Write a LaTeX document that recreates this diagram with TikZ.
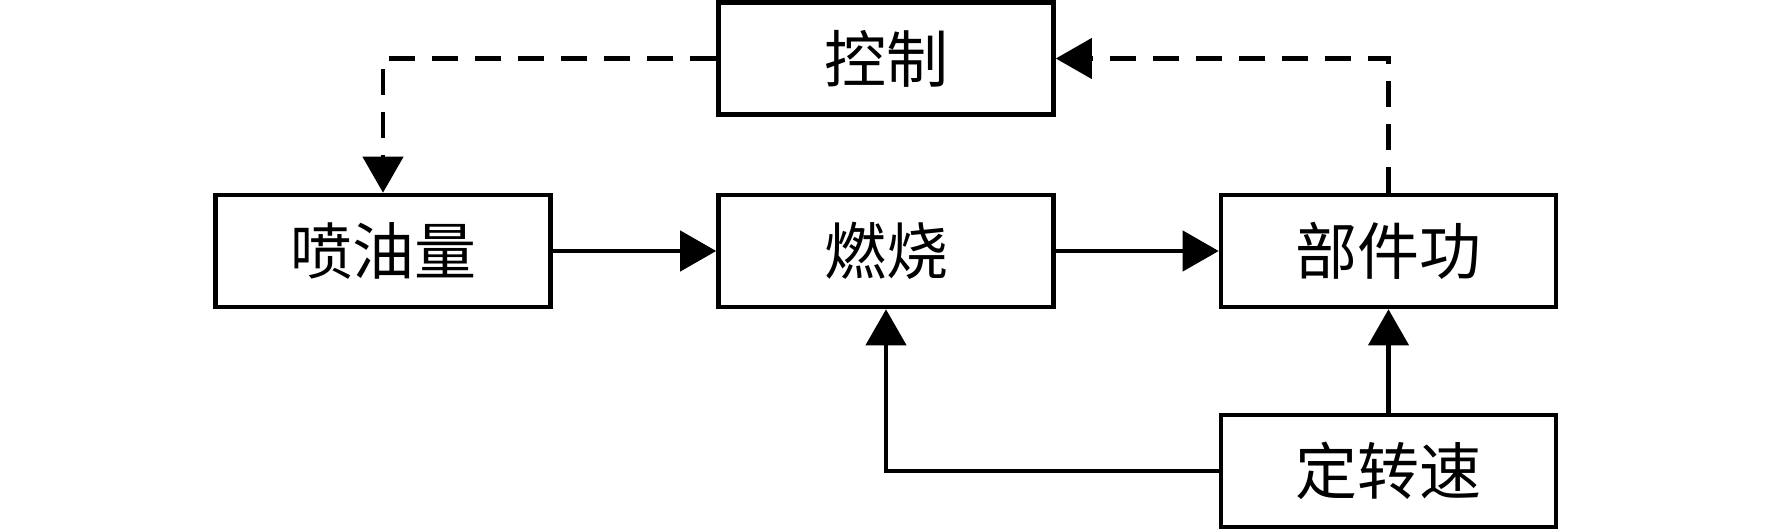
\documentclass[tikz,border=0pt]{standalone}
\usepackage{fontspec}
\newfontfamily\cjk{Noto Sans CJK SC}
\usetikzlibrary{arrows.meta}
\begin{document}
\begin{tikzpicture}[x=0.5pt,y=-0.5pt,
  box/.style={draw, line width=2.3pt, minimum width=167.5pt, minimum height=56pt, inner sep=0pt, fill=white, font=\cjk\fontsize{31}{36}\selectfont},
  link/.style={line width=2.2pt, -{Triangle[length=18pt,width=20pt]}},
  dlink/.style={link, dash pattern=on 13pt off 8.5pt}]
\useasboundingbox (0,0) rectangle (1772,529);
\node[box] (ctl) at (886,58.5) {控制};
\node[box] (pen) at (383,251) {喷油量};
\node[box] (burn) at (886,251) {燃烧};
\node[box] (work) at (1388.5,251) {部件功};
\node[box] (speed) at (1388.5,471) {定转速};
\draw[link] (pen.east) -- (burn.west);
\draw[link] (burn.east) -- (work.west);
\draw[link] (speed.north) -- (work.south);
\draw[link] (speed.west) -| (burn.south);
\draw[dlink] (work.north) |- (ctl.east);
\draw[dlink] (ctl.west) -| (pen.north);
\end{tikzpicture}
\end{document}
